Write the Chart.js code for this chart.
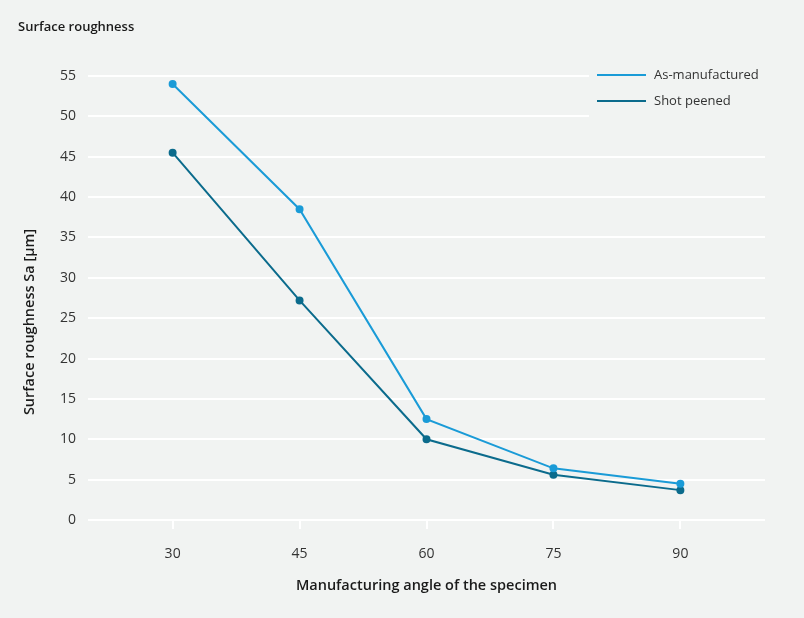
<!DOCTYPE html>
<html>
<head>
<meta charset="utf-8">
<script src="https://cdn.jsdelivr.net/npm/chart.js@4/dist/chart.umd.min.js"></script>
<style>
  html, body { margin: 0; padding: 0; background: #f1f3f2; }
  #wrap { position: relative; width: 804px; height: 618px; }
</style>
</head>
<body>
<div id="wrap"><canvas id="chart" width="804" height="618"></canvas></div>
<script>
const angles = [30, 45, 60, 75, 90];
const asManufactured = [54, 38.5, 12.5, 6.4, 4.5];
const shotPeened = [45.5, 27.2, 10, 5.6, 3.7];
const seriesNames = ['As-manufactured', 'Shot peened'];
const seriesColors = ['#1a9bd7', '#0b6b8c'];

const FONT = "'Open Sans', 'Noto Sans', sans-serif";
const BG = '#f1f3f2';

// Title, y-axis title and a legend box that hides the grid behind it
const decorations = {
    id: 'decorations',
    afterDraw(chart) {
        const ctx = chart.ctx;
        ctx.save();
        ctx.fillStyle = '#1a1a1a';
        ctx.font = '600 13px ' + FONT;
        ctx.textBaseline = 'middle';
        ctx.textAlign = 'left';
        ctx.fillText('Surface roughness', 18, 27);

        // y title sits a bit below the middle of the plot, as in the original
        ctx.save();
        ctx.translate(30, 322);
        ctx.rotate(-Math.PI / 2);
        ctx.textAlign = 'center';
        ctx.font = '600 14.5px ' + FONT;
        ctx.fillText('Surface roughness Sa [µm]', 0, 0);
        ctx.restore();

        ctx.fillStyle = BG;
        ctx.fillRect(589, 66, 180, 52);
        chart.data.datasets.forEach((ds, i) => {
            const y = 75 + i * 26;
            ctx.strokeStyle = ds.borderColor;
            ctx.lineWidth = 2;
            ctx.beginPath();
            ctx.moveTo(597, y);
            ctx.lineTo(646, y);
            ctx.stroke();
            ctx.fillStyle = '#333';
            ctx.font = '13px ' + FONT;
            ctx.fillText(ds.label, 654, y);
        });
        ctx.restore();
    }
};

new Chart(document.getElementById('chart').getContext('2d'), {
    type: 'line',
    data: {
        datasets: [
            {
                label: seriesNames[0],
                data: angles.map((a, i) => ({ x: a, y: asManufactured[i] })),
                borderColor: seriesColors[0],
                backgroundColor: seriesColors[0],
                borderWidth: 2,
                pointRadius: 3,
                pointHoverRadius: 3,
                tension: 0
            },
            {
                label: seriesNames[1],
                data: angles.map((a, i) => ({ x: a, y: shotPeened[i] })),
                borderColor: seriesColors[1],
                backgroundColor: seriesColors[1],
                borderWidth: 2,
                pointRadius: 3,
                pointHoverRadius: 3,
                tension: 0
            }
        ]
    },
    options: {
        responsive: false,
        animation: false,
        layout: { padding: { left: 0, right: 39, top: 76, bottom: 0 } },
        plugins: {
            legend: { display: false },
            tooltip: { enabled: false }
        },
        scales: {
            x: {
                type: 'linear',
                min: 20,
                max: 100,
                afterBuildTicks: scale => {
                    scale.ticks = angles.map(v => ({ value: v }));
                },
                afterFit: scale => { scale.height = 98; },
                border: { display: false },
                grid: {
                    drawOnChartArea: false,
                    drawTicks: true,
                    tickLength: 9,
                    color: '#ffffff',
                    lineWidth: 2
                },
                ticks: {
                    color: '#333',
                    font: { family: FONT, size: 14 },
                    padding: 17,
                    maxRotation: 0
                },
                title: {
                    display: true,
                    text: 'Manufacturing angle of the specimen',
                    color: '#1a1a1a',
                    font: { family: FONT, size: 14.5, weight: '600' },
                    padding: { top: 4, bottom: 23 }
                }
            },
            y: {
                min: 0,
                max: 55,
                afterFit: scale => { scale.width = 88; },
                border: { display: false },
                grid: {
                    color: '#ffffff',
                    lineWidth: 2,
                    drawTicks: false
                },
                ticks: {
                    stepSize: 5,
                    color: '#333',
                    font: { family: FONT, size: 14 },
                    padding: 12
                }
            }
        }
    },
    plugins: [decorations]
});
</script>
</body>
</html>
